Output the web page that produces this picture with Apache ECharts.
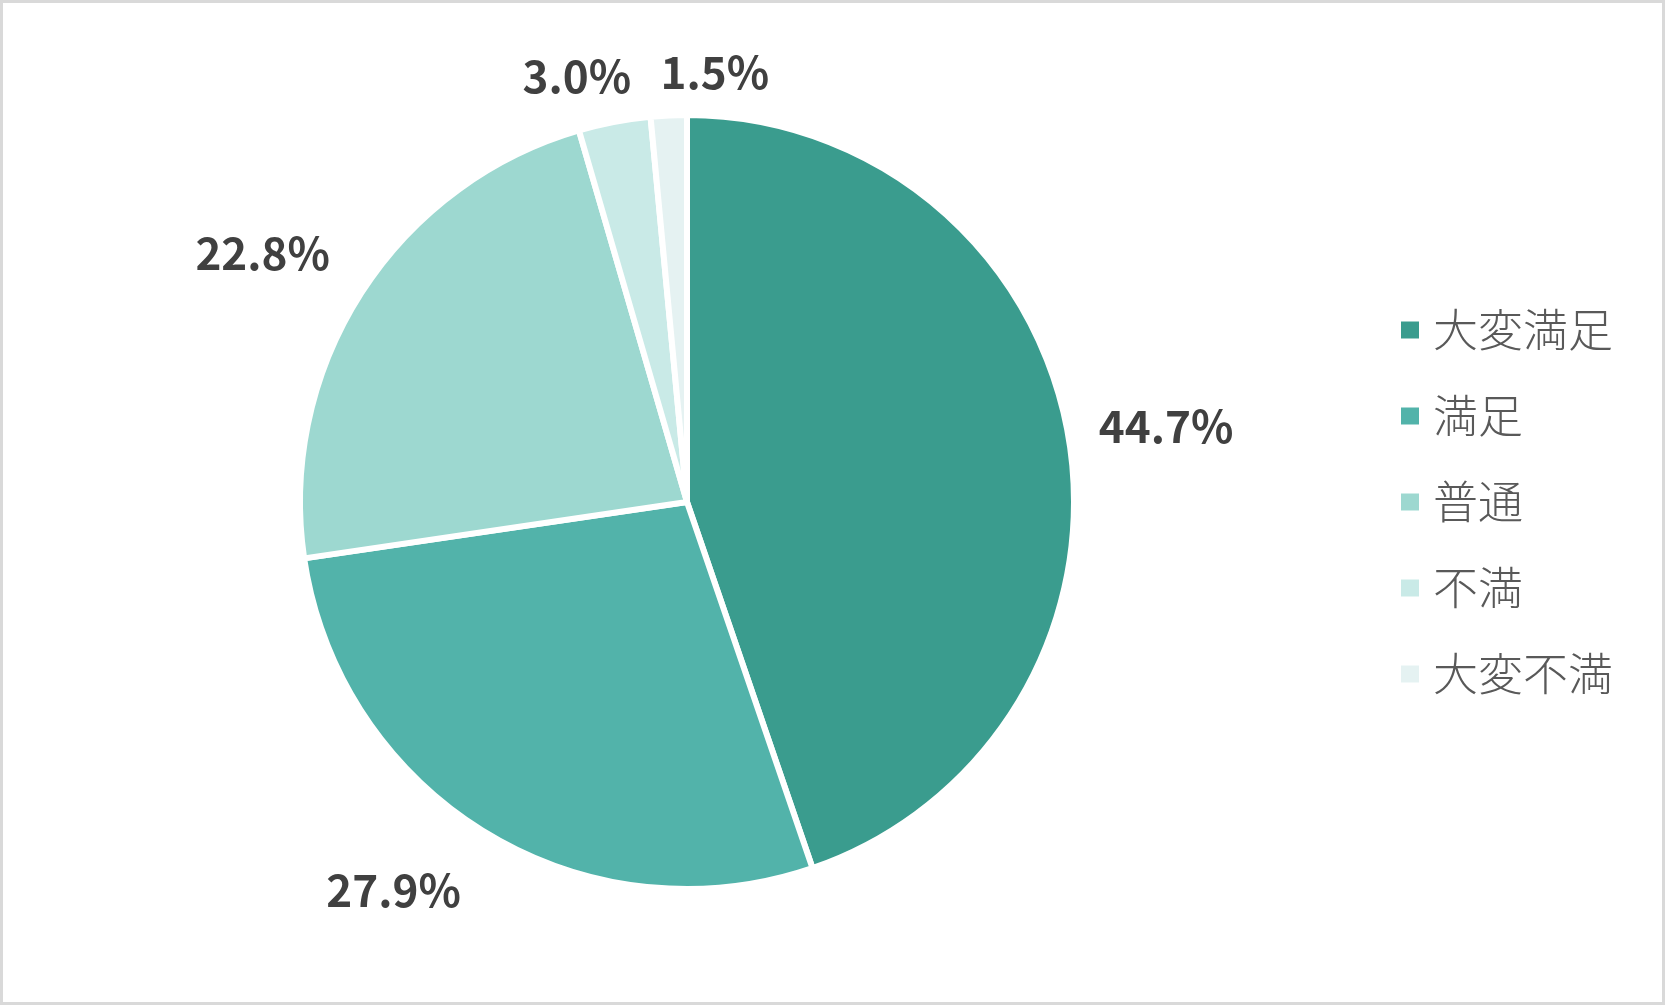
<!DOCTYPE html>
<html>
<head>
<meta charset="utf-8">
<script src="https://cdn.jsdelivr.net/npm/echarts@6/dist/echarts.min.js"></script>
<style>
  html, body { margin: 0; padding: 0; background: #ffffff; }
  #chart { position: absolute; left: 0; top: 0; width: 1665px; height: 1005px; }
  #frame { position: absolute; left: 0; top: 0; width: 1665px; height: 1005px; box-sizing: border-box; border: 3px solid #d9d9d9; pointer-events: none; }
</style>
</head>
<body>
<div id="chart"></div>
<div id="frame"></div>
<script>
// ---- data ----
var categories = ['大変満足', '満足', '普通', '不満', '大変不満'];
var values = [44.7, 27.9, 22.8, 3.0, 1.5];

// ---- style ----
var colors = ['#3a9c8e', '#52b3aa', '#9dd8d0', '#c9eae7', '#e5f2f2'];
var labelAngleNudge = [0.5, 5.7, -2.3, -3.7, 6.4];   // degrees, label placement tweak
var labelDistance = [485, 487, 492, 440, 431];       // px from pie centre to label centre

var pieCenter = [687, 502];
var pieRadius = 387;

var total = values.reduce(function (a, b) { return a + b; }, 0);
var midAngles = [];
(function () {
  var acc = 0;
  for (var i = 0; i < values.length; i++) {
    midAngles.push((acc + values[i] / 2) / total * 360);
    acc += values[i];
  }
})();

var chart = echarts.init(document.getElementById('chart'), null, { renderer: 'canvas' });
chart.setOption({
  backgroundColor: '#ffffff',
  animation: false,
  color: colors,
  legend: {
    orient: 'vertical',
    left: 1399,
    top: 300,
    padding: 0,
    itemWidth: 20,
    itemHeight: 19,
    itemGap: 26,
    icon: 'rect',
    data: categories,
    textStyle: {
      fontFamily: '"Noto Sans CJK JP", sans-serif',
      fontSize: 45,
      fontWeight: 300,
      lineHeight: 48,
      color: '#595959',
      padding: [0, 0, 12, 8]
    }
  },
  series: [{
    type: 'pie',
    center: pieCenter,
    radius: pieRadius,
    startAngle: 90,
    clockwise: true,
    avoidLabelOverlap: false,
    itemStyle: { borderColor: '#ffffff', borderWidth: 6 },
    emphasis: { disabled: true },
    labelLine: { show: false },
    label: {
      show: true,
      position: 'outside',
      fontFamily: '"Noto Sans CJK JP", sans-serif',
      fontWeight: 'bold',
      fontSize: 44,
      color: '#404040',
      formatter: function (p) { return p.value.toFixed(1) + '%'; }
    },
    labelLayout: function (params) {
      var i = params.dataIndex;
      var a = (midAngles[i] + labelAngleNudge[i]) * Math.PI / 180;
      var d = labelDistance[i];
      return {
        x: pieCenter[0] + Math.sin(a) * d,
        y: pieCenter[1] - Math.cos(a) * d,
        align: 'center',
        verticalAlign: 'middle'
      };
    },
    data: categories.map(function (c, i) { return { name: c, value: values[i] }; })
  }]
});
</script>
</body>
</html>
